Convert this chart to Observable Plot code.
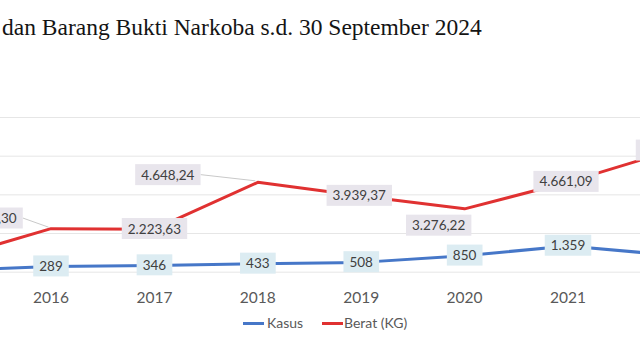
<!DOCTYPE html>
<html>
<head>
<meta charset="utf-8">
<script src="https://cdn.jsdelivr.net/npm/d3@7"></script>
<script src="https://cdn.jsdelivr.net/npm/@observablehq/plot@0.6"></script>
<style>
  html, body { margin: 0; padding: 0; background: #fff; }
  body { width: 640px; height: 360px; overflow: hidden; position: relative; }
  #title { position: absolute; left: 2px; top: 13px; font-family: "Liberation Serif", "Times New Roman", serif; font-size: 23.5px; line-height: 28px; color: #141414; white-space: nowrap; }
  #chart { position: absolute; left: 0; top: 50px; }
  .lg { position: absolute; top: 314px; font-family: Lato, sans-serif; font-size: 14px; line-height: 18px; color: #595959; white-space: nowrap; }
  .sw { position: absolute; top: 322px; height: 3px; width: 21px; }
</style>
</head>
<body>
<div id="title">dan Barang Bukti Narkoba s.d. 30 September 2024</div>
<div id="chart"></div>
<div class="sw" style="left:243px;background:#4677c8"></div>
<div class="lg" style="left:267px">Kasus</div>
<div class="sw" style="left:322px;background:#e03131"></div>
<div class="lg" style="left:344px">Berat (KG)</div>
<script>
// ---- data ----
const years = [2015, 2016, 2017, 2018, 2019, 2020, 2021, 2022];
const kasus = [95, 289, 346, 433, 508, 850, 1359, 880];
const berat = [690, 2250.30, 2223.63, 4648.24, 3939.37, 3276.22, 4661.09, 6280.50];
const tickYears = [2016, 2017, 2018, 2019, 2020, 2021];
const gridValues = [0, 2000, 4000, 6000, 8000];

// ---- label placement (style) ----
const beratOffsets = [[0, 0], [-61, -10], [0, 0], [-90, -7], [-2, 0], [-26, 17], [-2, 0], [-3, 0]];
const beratLeader = [false, true, false, true, false, false, false, false];

const BLUE = "#4677c8", RED = "#e03131";
const loc = d3.formatLocale({decimal: ",", thousands: ".", grouping: [3], currency: ["Rp", ""]});
const fmtB = loc.format(",.2f"), fmtK = loc.format(",d");

const kasusData = years.map((y, i) => ({year: y, v: kasus[i]}));
const beratData = years.map((y, i) => ({year: y, v: berat[i]}));

const marks = [
  Plot.gridY(gridValues, {stroke: "#e6e6e6", strokeOpacity: 1}),
  Plot.axisX(tickYears, {tickSize: 0, tickPadding: 20, tickFormat: d => String(d), fontSize: 15.5, fontFamily: "Lato", fill: "#595959", label: null}),
  Plot.line(kasusData, {x: "year", y: "v", stroke: BLUE, strokeWidth: 3}),
  Plot.line(beratData, {x: "year", y: "v", stroke: RED, strokeWidth: 3})
];
kasusData.forEach((d, i) => {
  marks.push(Plot.text([d], {x: "year", y: "v", text: d => fmtK(d.v), fontSize: 13.5, fontFamily: "Lato", fill: "#404040"}));
});
beratData.forEach((d, i) => {
  marks.push(Plot.text([d], {x: "year", y: "v", text: d => fmtB(d.v), dx: beratOffsets[i][0], dy: beratOffsets[i][1], fontSize: 13.5, fontFamily: "Lato", fill: "#404040"}));
});

const chart = Plot.plot({
  width: 640,
  height: 262,
  marginTop: 67,
  marginBottom: 40.3,
  marginLeft: 0,
  marginRight: 0,
  style: {background: "#fff", overflow: "hidden"},
  x: {type: "linear", domain: [2016, 2021], range: [50.5, 567.5], axis: null},
  y: {domain: [0, 8000], axis: null},
  marks
});
document.getElementById("chart").appendChild(chart);

// label boxes and leader lines
const xs = chart.scale("x"), ys = chart.scale("y");
const NS = "http://www.w3.org/2000/svg";
const textGroups = Array.from(chart.querySelectorAll('g[aria-label="text"]'));
const firstLine = chart.querySelector('g[aria-label="line"]');
function boxFor(g, fill) {
  const t = g && g.querySelector("text");
  if (!t) return null;
  const b = t.getBBox();
  const padX = 6, padY = 3;
  const r = document.createElementNS(NS, "rect");
  r.setAttribute("x", b.x - padX);
  r.setAttribute("y", b.y - padY + 0.5);
  r.setAttribute("width", b.width + 2 * padX);
  r.setAttribute("height", b.height + 2 * padY - 1);
  r.setAttribute("fill", fill);
  if (t.getAttribute("transform")) r.setAttribute("transform", t.getAttribute("transform"));
  t.parentNode.insertBefore(r, t);
  return {b, t};
}
function parseTranslate(el) {
  let ox = 0, oy = 0;
  let node = el;
  while (node && node !== chart) {
    const tr = node.getAttribute && node.getAttribute("transform");
    if (tr) { const m = tr.match(/translate\(([-\d.e]+)[ ,]+([-\d.e]+)\)/); if (m) { ox += +m[1]; oy += +m[2]; } }
    node = node.parentNode;
  }
  return [ox, oy];
}
kasusData.forEach((d, i) => boxFor(textGroups[i], "#dcecf2"));
beratData.forEach((d, i) => {
  const res = boxFor(textGroups[kasusData.length + i], "#e8e5ec");
  if (res && beratLeader[i]) {
    const px = xs.apply(d.year), py = ys.apply(d.v);
    const [ox, oy] = parseTranslate(res.t);
    const ln = document.createElementNS(NS, "line");
    ln.setAttribute("x1", res.b.x + res.b.width + 6 + ox);
    ln.setAttribute("y1", res.b.y + res.b.height / 2 + oy);
    ln.setAttribute("x2", px - 2);
    ln.setAttribute("y2", py - 1);
    ln.setAttribute("stroke", "#c9c9c9");
    ln.setAttribute("stroke-width", 1);
    firstLine.parentNode.insertBefore(ln, firstLine);
  }
});
</script>
</body>
</html>
